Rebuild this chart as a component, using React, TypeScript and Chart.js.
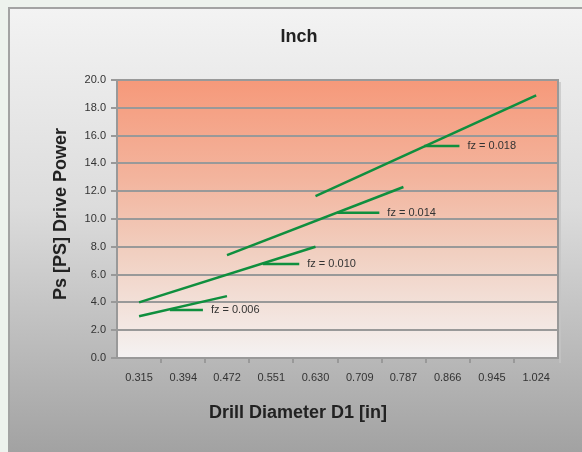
import React, { useEffect, useRef } from "react";
import { Chart, registerables } from "chart.js";

Chart.register(...registerables);

const xTickValues = [0.315, 0.394, 0.472, 0.551, 0.63, 0.709, 0.787, 0.866, 0.945, 1.024];
const xTickLabels = ["0.315", "0.394", "0.472", "0.551", "0.630", "0.709", "0.787", "0.866", "0.945", "1.024"];

const seriesNames = ["fz = 0.006", "fz = 0.010", "fz = 0.014", "fz = 0.018"];
const lineX = [
  [0.315, 0.472],
  [0.315, 0.63],
  [0.472, 0.787],
  [0.63, 1.024],
];
const lineY = [
  [3.0, 4.45],
  [4.0, 8.0],
  [7.4, 12.3],
  [11.65, 18.9],
];
// leader lines from each curve to its label
const leaderX = [
  [0.37, 0.429],
  [0.536, 0.601],
  [0.669, 0.744],
  [0.824, 0.887],
];
const leaderY = [3.45, 6.76, 10.45, 15.25];

const GREEN = "#0f8f3e";
const GRID = "#999999";

export default function App() {
  const ref = useRef<HTMLCanvasElement>(null);

  useEffect(() => {
    const canvas = ref.current!;
    const datasets: any[] = [];
    lineX.forEach((xs, i) => {
      datasets.push({
        label: seriesNames[i],
        data: xs.map((x, j) => ({ x, y: lineY[i][j] })),
        borderColor: GREEN,
        borderWidth: 2.5,
        pointRadius: 0,
        fill: false,
      });
    });
    leaderX.forEach((xs, i) => {
      datasets.push({
        label: "leader " + seriesNames[i],
        data: xs.map((x) => ({ x, y: leaderY[i] })),
        borderColor: GREEN,
        borderWidth: 2.5,
        pointRadius: 0,
        fill: false,
      });
    });

    const bgPlugin = {
      id: "bg",
      beforeDraw(chart: any) {
        const ctx = chart.ctx;
        const W = chart.width, H = chart.height;
        ctx.save();
        ctx.fillStyle = "#edf2ed";
        ctx.fillRect(0, 0, W, H);
        const g = ctx.createLinearGradient(0, 7, 0, H);
        g.addColorStop(0, "#f3f3f3");
        g.addColorStop(0.45, "#dcdcdc");
        g.addColorStop(1, "#a2a2a2");
        ctx.fillStyle = g;
        ctx.fillRect(8, 7, W - 8, H - 7);
        ctx.strokeStyle = "#a3a3a3";
        ctx.lineWidth = 2;
        ctx.beginPath();
        ctx.moveTo(9, H);
        ctx.lineTo(9, 8);
        ctx.lineTo(W, 8);
        ctx.stroke();
        const a = chart.chartArea;
        const pg = ctx.createLinearGradient(0, a.top, 0, a.bottom);
        pg.addColorStop(0, "#f6997a");
        pg.addColorStop(0.35, "#f3b49d");
        pg.addColorStop(0.62, "#f1cfc0");
        pg.addColorStop(1, "#f4f2f2");
        ctx.fillStyle = pg;
        ctx.fillRect(a.left, a.top, a.right - a.left, a.bottom - a.top);
        // shadow at right
        ctx.strokeStyle = "#c4c4c4";
        ctx.lineWidth = 1.5;
        ctx.beginPath();
        ctx.moveTo(a.right + 2, a.top + 2);
        ctx.lineTo(a.right + 2, a.bottom + 5);
        ctx.stroke();
        ctx.restore();
      },
      afterDraw(chart: any) {
        const ctx = chart.ctx;
        const a = chart.chartArea;
        const xs = chart.scales.x, ys = chart.scales.y;
        ctx.save();
        ctx.strokeStyle = GRID;
        ctx.lineWidth = 2;
        ctx.beginPath();
        ctx.moveTo(a.right, a.top - 1);
        ctx.lineTo(a.right, a.bottom);
        ctx.stroke();
        ctx.fillStyle = "#333333";
        ctx.font = "11px 'Liberation Sans', Arial, sans-serif";
        ctx.textAlign = "left";
        ctx.textBaseline = "middle";
        leaderX.forEach((lx, i) => {
          ctx.fillText(seriesNames[i], xs.getPixelForValue(lx[1]) + 8, ys.getPixelForValue(leaderY[i]));
        });
        ctx.fillStyle = "#222222";
        ctx.font = "bold 18px 'Liberation Sans', Arial, sans-serif";
        ctx.textAlign = "center";
        ctx.fillText("Inch", 299, 37);
        ctx.fillText("Drill Diameter D1 [in]", 298, 413);
        ctx.translate(61.5, 214);
        ctx.rotate(-Math.PI / 2);
        ctx.fillText("Ps [PS] Drive Power", 0, 0);
        ctx.restore();
      },
    };

    const chart = new Chart(canvas, {
      type: "line",
      data: { datasets },
      options: {
        animation: false,
        responsive: false,
        maintainAspectRatio: false,
        layout: { padding: { left: 67, right: 24, top: 80, bottom: 64 } },
        plugins: { legend: { display: false }, tooltip: { enabled: false }, title: { display: false } },
        scales: {
          x: {
            type: "linear",
            min: 0.2756,
            max: 1.063,
            afterBuildTicks(scale: any) {
              scale.ticks = xTickValues.map((v) => ({ value: v }));
            },
            afterFit(scale: any) {
              scale.height = 30;
            },
            grid: {
              offset: true,
              drawOnChartArea: false,
              drawTicks: true,
              tickLength: 5,
              color: GRID,
              lineWidth: 2,
            },
            border: { display: true, color: GRID, width: 2 },
            ticks: {
              autoSkip: false,
              maxRotation: 0,
              padding: 8,
              color: "#333333",
              font: { family: "'Liberation Sans', Arial, sans-serif", size: 11 },
              callback: (v: any) => {
                const i = xTickValues.indexOf(v);
                return i >= 0 ? xTickLabels[i] : "";
              },
            },
          },
          y: {
            type: "linear",
            min: 0,
            max: 20,
            afterFit(scale: any) {
              scale.width = 50;
            },
            grid: {
              drawTicks: true,
              tickLength: 6,
              color: GRID,
              lineWidth: 2,
            },
            border: { display: true, color: GRID, width: 2 },
            ticks: {
              stepSize: 2,
              padding: 5,
              color: "#333333",
              font: { family: "'Liberation Sans', Arial, sans-serif", size: 11 },
              callback: (v: any) => Number(v).toFixed(1),
            },
          },
        },
      },
      plugins: [bgPlugin],
    });
    return () => chart.destroy();
  }, []);

  return (
    <div style={{ position: "absolute", left: 0, top: 0, width: 582, height: 452 }}>
      <canvas ref={ref} width={582} height={452} style={{ display: "block" }} />
    </div>
  );
}
